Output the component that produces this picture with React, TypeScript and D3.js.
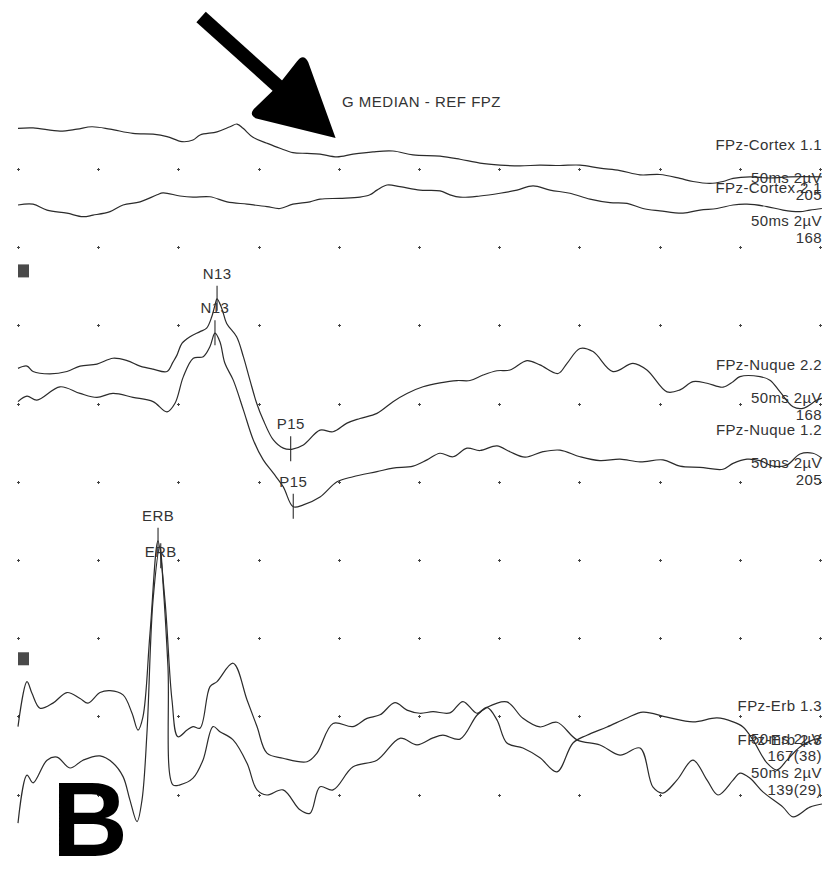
import React, { useRef, useEffect } from 'react';
import * as d3 from 'd3';

// sweep is 50 ms over 10 divisions, 2 µV per division
const timeTicks = d3.range(0, 51, 5);
const gridRows = d3.range(0, 10);

// [time ms, amplitude µV] per channel
const cortex11 = [[0,1.04],[0.94,1.05],[2.62,0.97],[3.68,1.02],[4.61,1.08],[5.74,1.02],[7.17,0.91],[8.42,0.89],[9.29,0.83],[10.22,0.70],[10.91,0.74],[11.35,0.87],[12.41,0.95],[13.22,1.08],[13.65,1.15],[14.03,1.04],[14.65,0.81],[15.52,0.66],[16.33,0.53],[17.14,0.42],[18.02,0.40],[18.83,0.38],[19.89,0.31],[20.89,0.38],[22.13,0.44],[23.38,0.46],[24.63,0.36],[26.31,0.33],[27.56,0.25],[28.80,0.15],[30.05,0.10],[31.30,0.08],[32.54,0.10],[33.79,0.09],[35.04,0.10],[36.28,0.02],[37.53,-0.04],[38.78,-0.15],[40.02,-0.14],[41.27,-0.24],[42.08,-0.32],[43.14,-0.37],[43.95,-0.32],[44.58,-0.24],[45.64,-0.20],[46.88,-0.23],[48.13,-0.20],[50.12,-0.20]];

const cortex21 = [[0,1.08],[0.94,1.10],[1.81,0.95],[3.05,0.87],[4.05,0.78],[4.68,0.82],[5.74,0.91],[6.55,1.08],[7.61,1.16],[8.67,1.34],[9.04,1.39],[10.10,1.31],[10.91,1.28],[11.97,1.29],[13.03,1.16],[14.28,1.10],[15.52,1.04],[16.33,0.99],[17.14,1.10],[18.20,1.16],[18.83,1.23],[20.07,1.25],[21.32,1.28],[21.94,1.34],[22.38,1.46],[23.00,1.59],[23.81,1.55],[25.06,1.46],[26.31,1.44],[26.93,1.34],[27.56,1.28],[28.80,1.31],[30.05,1.38],[31.11,1.46],[32.11,1.57],[33.17,1.46],[34.41,1.38],[35.66,1.23],[36.91,1.14],[37.97,1.12],[38.96,0.99],[40.02,0.93],[41.46,0.87],[42.52,0.95],[43.58,0.99],[44.58,1.08],[45.45,1.10],[46.69,1.04],[47.69,0.95],[48.75,0.91],[49.37,0.95],[50.12,0.99]];

const nuque22 = [[0,0.90],[0.56,0.96],[0.94,0.82],[1.99,0.76],[3.05,0.82],[3.87,0.96],[4.92,1.01],[5.92,1.16],[6.80,1.10],[7.61,0.96],[8.42,0.88],[9.29,0.82],[9.66,1.06],[9.91,1.24],[10.22,1.54],[10.72,1.71],[11.35,1.84],[11.76,1.93],[12.08,2.22],[12.28,2.52],[12.41,2.68],[12.70,2.44],[13.01,2.05],[13.63,1.71],[14.05,1.20],[14.46,0.60],[14.88,0.01],[15.29,-0.42],[15.92,-0.93],[16.54,-1.14],[17.06,-1.17],[17.79,-1.06],[18.83,-0.68],[19.64,-0.72],[20.51,-0.50],[21.32,-0.38],[22.38,-0.25],[23.38,0.05],[24.25,0.26],[25.25,0.43],[26.31,0.53],[27.37,0.59],[28.18,0.59],[28.99,0.73],[29.86,0.84],[30.67,0.86],[31.73,1.10],[32.54,0.99],[33.67,0.77],[34.23,1.03],[35.04,1.41],[35.85,1.33],[37.09,0.82],[38.34,1.03],[39.21,0.86],[40.46,0.30],[41.27,0.35],[42.08,0.56],[42.96,0.52],[43.95,0.42],[44.58,0.56],[45.01,0.69],[46.26,0.69],[46.88,0.60],[47.51,0.30],[48.32,-0.08],[48.94,-0.12],[49.81,0.09],[50.12,0.14]];

const nuque12 = [[0,2.05],[0.56,2.19],[1.18,2.09],[2.62,2.43],[3.87,2.26],[4.92,2.16],[5.92,2.26],[7.17,2.16],[8.42,2.05],[9.29,1.79],[9.79,2.01],[10.31,2.69],[10.93,3.16],[11.55,3.20],[11.97,3.46],[12.28,3.80],[12.59,3.58],[12.90,3.03],[13.42,2.60],[14.05,1.84],[14.67,1.07],[15.29,0.56],[15.92,0.22],[16.54,-0.13],[17.16,-0.64],[17.79,-0.59],[18.83,-0.39],[19.89,0.00],[20.89,0.13],[22.38,0.26],[23.38,0.35],[24.63,0.40],[25.50,0.56],[26.31,0.73],[27.12,0.64],[27.99,0.86],[28.80,0.80],[29.86,0.92],[30.67,0.77],[31.61,0.63],[32.73,0.77],[33.79,0.81],[35.04,0.64],[36.28,0.54],[37.53,0.58],[38.78,0.51],[40.21,0.56],[41.27,0.40],[42.52,0.37],[43.95,0.32],[44.58,0.47],[45.45,0.58],[46.26,0.54],[47.07,0.40],[47.94,0.43],[48.75,0.71],[49.56,0.73],[50.12,0.60]];

const erb13 = [[0,-0.26],[0.56,0.89],[0.87,0.59],[1.37,0.21],[2.18,0.34],[3.05,0.61],[3.87,0.46],[4.36,0.34],[5.11,0.61],[5.74,0.66],[6.55,0.55],[7.11,0.08],[7.48,-0.35],[7.79,-0.01],[8.23,2.13],[8.73,4.49],[9.16,2.98],[9.60,0.42],[9.97,-0.52],[10.54,-0.35],[10.91,-0.26],[11.35,-0.30],[11.97,0.76],[12.41,0.89],[13.41,1.36],[14.28,0.42],[14.90,-0.26],[15.52,-0.94],[16.52,-1.07],[18.02,-1.16],[18.64,-0.94],[19.64,-0.18],[20.89,-0.26],[21.76,-0.05],[22.57,0.04],[23.50,0.35],[24.25,0.16],[25.06,0.08],[25.87,0.12],[26.93,0.09],[27.74,0.38],[28.61,0.08],[29.24,0.23],[29.86,-0.09],[30.48,-0.68],[31.48,-0.81],[32.54,-1.06],[33.60,-1.42],[34.60,-0.68],[35.47,-0.48],[36.72,-0.27],[37.97,-0.04],[38.96,0.11],[40.46,-0.02],[42.08,-0.14],[43.58,-0.04],[44.58,-0.14],[45.20,-0.27],[45.82,-0.60],[46.69,-1.19],[47.32,-1.37],[47.94,-1.12],[48.75,-0.78],[49.56,-0.60],[50.12,-0.55]];

const erb23 = [[0,-0.73],[0.56,0.50],[0.94,0.30],[1.81,0.88],[2.43,0.96],[3.24,0.68],[4.05,0.88],[5.11,0.99],[5.92,0.81],[6.55,0.46],[6.98,-0.14],[7.42,-0.69],[7.73,-0.14],[8.04,1.58],[8.42,4.98],[8.85,6.34],[9.04,5.41],[9.35,3.27],[9.66,0.25],[10.10,0.25],[10.91,0.42],[11.53,0.88],[12.16,1.74],[12.59,1.61],[13.41,1.40],[14.28,0.80],[14.90,0.12],[15.52,-0.01],[16.52,0.12],[17.58,-0.39],[18.20,-0.48],[18.83,0.20],[19.64,0.12],[20.89,0.71],[22.38,0.88],[23.81,1.44],[24.88,1.27],[25.87,1.45],[26.49,1.52],[27.56,1.42],[28.61,2.03],[29.24,2.23],[30.48,2.37],[31.48,1.95],[32.54,1.73],[33.60,1.85],[34.85,1.40],[36.28,1.27],[37.53,1.01],[38.78,1.19],[39.59,0.19],[40.21,0.04],[41.08,0.37],[42.08,0.88],[42.96,0.37],[43.64,-0.01],[44.58,0.37],[45.01,0.55],[45.64,0.42],[46.44,0.07],[47.69,-0.32],[48.32,-0.57],[49.37,-0.32],[50.12,-0.24]];

const channelNames = ['FPz-Cortex 1.1', 'FPz-Cortex 2.1', 'FPz-Nuque 2.2', 'FPz-Nuque 1.2', 'FPz-Erb 1.3', 'FPz-Erb 2.3'];
const sweepLabels = ['50ms 2µV', '50ms 2µV', '50ms 2µV', '50ms 2µV', '50ms 2µV', '50ms 2µV'];
const averageCounts = ['205', '168', '168', '205', '167(38)', '139(29)'];
const channelData = [cortex11, cortex21, nuque22, nuque12, erb13, erb23];

const peakLabels = ['N13', 'N13', 'P15', 'P15', 'ERB', 'ERB'];
const peakChannels = [2, 3, 2, 3, 4, 5];
const peakTimes = [12.41, 12.28, 17.0, 17.16, 8.73, 8.9];

const title = 'G MEDIAN - REF FPZ';
const panelLetter = 'B';

// layout
const channelRows = [0, 1, 3, 4, 7, 8];
const groupMarkRows = [1.22, 6.18];
const labelTops = [150, 193, 370, 435, 711, 745];
const peakLabelLift = [7, 7, 7, 7, 7, -14];
const FONT = '"Liberation Sans", Arial, sans-serif';
const INK = '#2b2b2b';

const valueAt = (data, t) => {
  const i = d3.bisector(d => d[0]).left(data, t);
  if (i <= 0) return data[0][1];
  if (i >= data.length) return data[data.length - 1][1];
  const [t0, v0] = data[i - 1];
  const [t1, v1] = data[i];
  return v0 + (v1 - v0) * (t - t0) / (t1 - t0);
};

const EvokedTraces = ({ width, height }) => {
  const svgRef = useRef(null);

  useEffect(() => {
    const svg = d3.select(svgRef.current);
    svg.selectAll('*').remove();

    const x = d3.scaleLinear().domain([0, 50]).range([18, 820]);
    const row = d3.scaleLinear().domain([0, 9]).range([169, 872.8]);
    const step = row(1) - row(0);
    const amp = base => d3.scaleLinear().domain([0, 2]).range([row(base), row(base) - step]);
    const yScales = channelRows.map(amp);

    svg.append('rect').attr('width', width).attr('height', height).attr('fill', '#fff');

    // dotted grid: small crosses at every division
    const dots = svg.append('g').attr('stroke', '#444').attr('stroke-width', 1);
    gridRows.forEach(r => {
      timeTicks.forEach(t => {
        const cx = Math.round(x(t)) + 0.5, cy = Math.round(row(r)) + 0.5;
        dots.append('line').attr('x1', cx - 1.5).attr('x2', cx + 1.5).attr('y1', cy).attr('y2', cy);
        dots.append('line').attr('x1', cx).attr('x2', cx).attr('y1', cy - 1.5).attr('y2', cy + 1.5);
      });
    });

    // little channel-group markers at the left edge
    groupMarkRows.forEach(r => {
      svg.append('rect')
        .attr('x', 18).attr('y', row(r))
        .attr('width', 11).attr('height', 13)
        .attr('fill', '#4a4a4a');
    });

    // channel labels on the right
    const labels = svg.append('g')
      .attr('font-family', FONT).attr('font-size', 15)
      .attr('letter-spacing', 0.4).attr('fill', '#333')
      .attr('text-anchor', 'end');
    channelNames.forEach((name, i) => {
      labels.append('text').attr('x', 822).attr('y', labelTops[i]).text(name);
      labels.append('text').attr('x', 822).attr('y', labelTops[i] + 33).text(sweepLabels[i]);
      labels.append('text').attr('x', 822).attr('y', labelTops[i] + 50).text(averageCounts[i]);
    });

    // traces
    channelData.forEach((data, i) => {
      const line = d3.line()
        .x(d => x(d[0]))
        .y(d => yScales[i](d[1]))
        .curve(d3.curveCatmullRom.alpha(0.5));
      svg.append('path')
        .attr('d', line(data))
        .attr('fill', 'none')
        .attr('stroke', INK)
        .attr('stroke-width', 1.2)
        .attr('stroke-linejoin', 'round');
    });

    // peak cursors
    peakLabels.forEach((lab, i) => {
      const ch = peakChannels[i];
      const px = x(peakTimes[i]);
      const py = yScales[ch](valueAt(channelData[ch], peakTimes[i]));
      svg.append('line')
        .attr('x1', px).attr('x2', px)
        .attr('y1', py - 13).attr('y2', py + 12)
        .attr('stroke', INK).attr('stroke-width', 1.1);
      svg.append('text')
        .attr('x', px).attr('y', py - 13 - peakLabelLift[i])
        .attr('text-anchor', 'middle')
        .attr('font-family', FONT).attr('font-size', 15)
        .attr('letter-spacing', 0.4).attr('fill', '#333')
        .text(lab);
    });

    // montage title
    svg.append('text')
      .attr('x', 342).attr('y', 107)
      .attr('font-family', FONT).attr('font-size', 15)
      .attr('letter-spacing', 0.5).attr('fill', '#333')
      .text(title);

    // big arrow pointing at the flat cortical trace
    const tipX = x(19.8), tipY = yScales[0](0.79);
    const arrow = svg.append('g')
      .attr('transform', `translate(${tipX},${tipY}) rotate(42)`)
      .attr('fill', '#000');
    arrow.append('rect').attr('x', -181).attr('y', -7).attr('width', 114).attr('height', 14);
    arrow.append('path')
      .attr('d', 'M0,0 L-71,-38 Q-81,-42 -80,-31 L-78,0 L-80,31 Q-81,42 -71,38 Z');

    svg.append('text')
      .attr('x', 52).attr('y', 856)
      .attr('font-family', FONT).attr('font-size', 105)
      .attr('font-weight', 'bold').attr('fill', '#000')
      .text(panelLetter);
  }, [width, height]);

  return <svg ref={svgRef} width={width} height={height} style={{ position: 'absolute', left: 0, top: 0 }}></svg>;
};

export default function App() {
  return <EvokedTraces width={823} height={870} />;
}
